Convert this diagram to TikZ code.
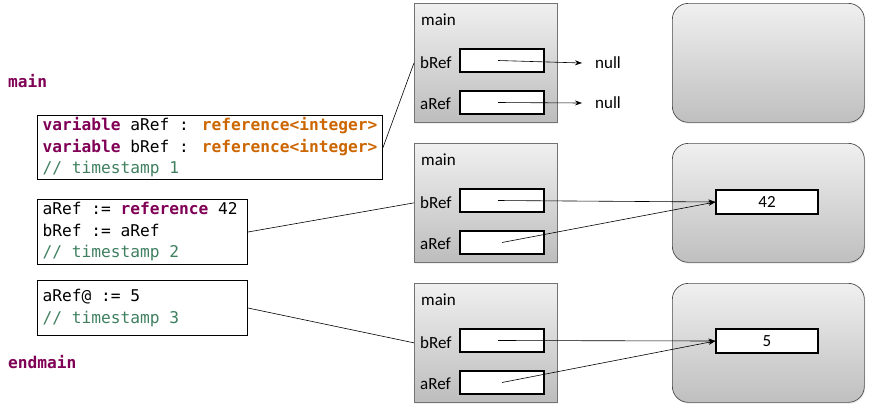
\documentclass[tikz,border=0pt]{standalone}
\usepackage{fontspec}
\setmainfont{Carlito}
\newfontfamily\codefont{DejaVu Sans Mono}
\usepackage{xcolor}
\usetikzlibrary{positioning, arrows.meta, shadows}

\definecolor{kwpurple}{HTML}{7F0055}
\definecolor{typeorange}{HTML}{CC6600}
\definecolor{cmtgreen}{HTML}{3F7F5F}
\newcommand{\kw}[1]{\textcolor{kwpurple}{\textbf{#1}}}
\newcommand{\ty}[1]{\textcolor{typeorange}{\textbf{#1}}}
\newcommand{\cmt}[1]{\textcolor{cmtgreen}{#1}}
\newcommand{\codesize}{\codefont\fontsize{16.2}{21.5}\selectfont\spaceskip=0pt\xspaceskip=0pt\relax}

\begin{document}
\begin{tikzpicture}[x=1pt, y=-1pt,
        code/.style={draw, line width=1pt, anchor=north west, align=left, inner xsep=5pt, inner ysep=0pt,
            execute at begin node=\codesize},
        frame/.style={draw=black!55, line width=0.7pt, anchor=north west, minimum width=143, minimum height=119,
            top color=black!6, bottom color=black!26, drop shadow={opacity=0.12, shadow xshift=1pt, shadow yshift=-1.5pt}},
        heap/.style={draw=black!70, line width=0.7pt, rounded corners=16pt, anchor=north west, minimum width=192, minimum height=119,
            top color=black!6, bottom color=black!25, drop shadow={opacity=0.12, shadow xshift=1pt, shadow yshift=-1.5pt}},
        slot/.style={draw, line width=1.3pt, fill=white, minimum width=84, minimum height=23, inner sep=0pt},
        valbox/.style={draw, line width=1.1pt, fill=white, minimum width=102, minimum height=24, inner sep=0pt,
            font={\fontsize{17}{20}\selectfont}},
        lbl/.style={anchor=west, inner sep=0pt, font={\fontsize{17}{20}\selectfont}},
        ptr/.style={-{Stealth[length=7pt, width=5pt]}, line width=0.6pt}]

    \useasboundingbox (0,0) rectangle (870,408);

    % the program
    \node[anchor=west, inner sep=0pt, text=kwpurple, font={\codesize\bfseries}] (mainkw) at (8,81) {main};
    \node[code, minimum height=64, text width=335] (codeA) at (37,115)
        {\kw{variable} aRef : \ty{reference<integer>}\\\kw{variable} bRef : \ty{reference<integer>}\\\cmt{// timestamp 1}};
    \node[code, minimum height=65, text width=200] (codeB) at (37,199)
        {aRef := \kw{reference} 42\\bRef := aRef\\\cmt{// timestamp 2}};
    \node[code, minimum height=55, text width=200] (codeC) at (37,280)
        {aRef@ := 5\\\cmt{// timestamp 3}};
    \node[anchor=west, inner sep=0pt, text=kwpurple, font={\codesize\bfseries}] (endkw) at (8,362) {endmain};

    % stack frames and heap, one row per timestamp
    \foreach \i/\dy in {1/0, 2/140, 3/280} {
        \node[frame] (frame\i) at (414,3+\dy) {};
        \node[heap] (heap\i) at (672,3+\dy) {};
        \node[lbl] (fname\i) at (421,20+\dy) {main};
        \node[lbl] (blbl\i) at (420,63+\dy) {bRef};
        \node[lbl] (albl\i) at (420,104+\dy) {aRef};
        \node[slot] (bslot\i) at (502,60.5+\dy) {};
        \node[slot] (aslot\i) at (502,102.5+\dy) {};
    }

    % timestamp 1: both null
    \node[lbl] (bnull) at (595,63) {null};
    \node[lbl] (anull) at (595,103) {null};
    \draw[ptr] ([xshift=-4pt]bslot1.center) -- ([xshift=-13pt]bnull.west);
    \draw[ptr] ([xshift=-4pt]aslot1.center) -- ([xshift=-13pt]anull.west);

    % timestamps 2 and 3: both point to the same value
    \node[valbox] (val2) at (767,202) {42};
    \node[valbox] (val3) at (767,341) {5};
    \foreach \i in {2,3} {
        \draw[ptr] ([xshift=-4pt]bslot\i.center) -- (val\i.west);
        \draw[ptr] (aslot\i.center) -- (val\i.west);
    }

    % code to frame
    \draw[line width=0.6pt] (codeA.east) -- (frame1.west);
    \draw[line width=0.6pt] (codeB.east) -- (frame2.west);
    \draw[line width=0.6pt] (codeC.east) -- (frame3.west);

\end{tikzpicture}
\end{document}
